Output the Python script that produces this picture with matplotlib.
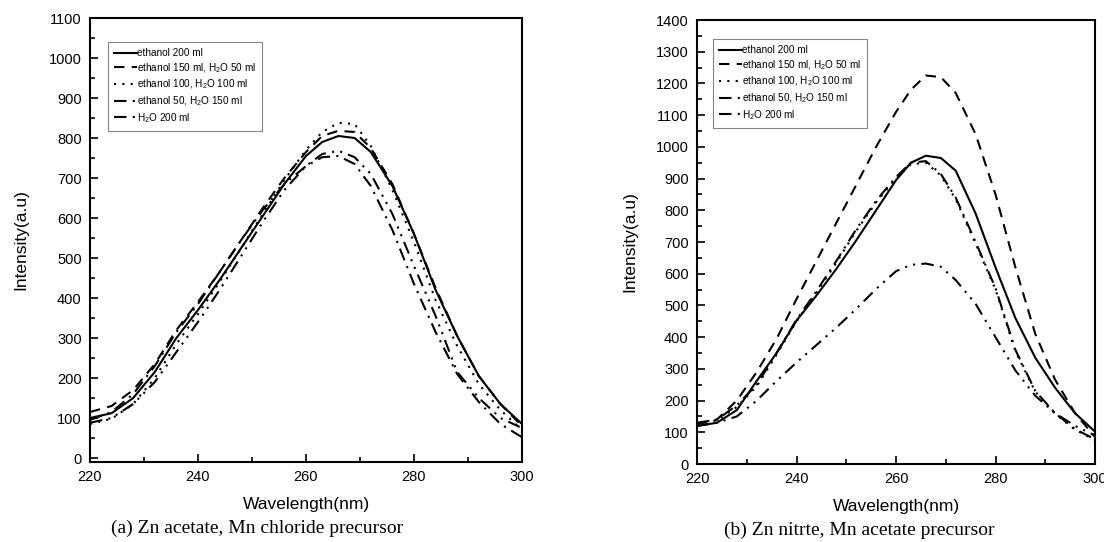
import numpy as np
import matplotlib
matplotlib.use('Agg')
import matplotlib.pyplot as plt
from matplotlib.ticker import MultipleLocator

plt.rcParams['font.family'] = ['Liberation Sans', 'DejaVu Sans']
plt.rcParams['mathtext.fontset'] = 'custom'
plt.rcParams['mathtext.rm'] = 'Liberation Sans'

labels = ['ethanol 200 ml',
          r'ethanol 150 ml, H$_\mathregular{2}$O 50 ml',
          r'ethanol 100, H$_\mathregular{2}$O 100 ml',
          r'ethanol 50, H$_\mathregular{2}$O 150 ml',
          r'H$_\mathregular{2}$O 200 ml']

# (a) Zn acetate, Mn chloride precursor
wl_a = [220, 224, 228, 232, 236, 240, 244, 248, 252, 256, 260, 263, 266, 269,
        272, 276, 280, 284, 288, 292, 296, 300]
a_eth200 = [100, 112, 150, 215, 300, 370, 445, 525, 605, 685, 755, 790, 805, 800,
            765, 680, 560, 420, 305, 205, 135, 85]
a_eth150 = [115, 130, 170, 235, 320, 390, 465, 545, 625, 700, 765, 805, 818, 815,
            775, 685, 560, 425, 305, 205, 135, 80]
a_eth100 = [85, 98, 135, 200, 285, 360, 440, 525, 610, 695, 770, 815, 838, 835,
            780, 670, 540, 395, 280, 185, 120, 70]
a_eth50 = [95, 115, 160, 230, 315, 385, 465, 545, 620, 685, 730, 752, 755, 735,
           680, 570, 435, 315, 210, 140, 85, 52]
a_h2o = [88, 100, 135, 190, 265, 340, 420, 505, 590, 670, 730, 760, 768, 752,
         710, 610, 480, 355, 215, 150, 100, 75]

# (b) Zn nitrate, Mn acetate precursor
wl_b = [220, 224, 228, 232, 236, 240, 244, 248, 252, 256, 260, 263, 266, 269,
        272, 276, 280, 284, 288, 292, 296, 300]
b_eth200 = [120, 130, 170, 262, 350, 452, 531, 615, 705, 800, 895, 950, 972, 965,
            925, 790, 620, 460, 335, 240, 160, 102]
b_eth150 = [125, 140, 200, 290, 395, 520, 640, 760, 880, 1000, 1110, 1180, 1225, 1220,
            1170, 1040, 850, 620, 410, 265, 160, 85]
b_eth100 = [125, 138, 180, 245, 345, 450, 540, 635, 735, 825, 900, 945, 950, 910,
            835, 695, 550, 355, 228, 158, 108, 76]
b_eth50 = [130, 140, 185, 250, 350, 455, 545, 640, 740, 830, 905, 950, 955, 915,
           840, 700, 555, 360, 230, 160, 110, 78]
b_h2o = [120, 130, 150, 200, 262, 320, 375, 430, 489, 552, 608, 628, 632, 622,
         580, 505, 400, 295, 215, 160, 120, 90]

styles = ['-', (0, (5, 3.5)), (0, (1, 3)), (0, (6, 3, 1, 3)), (0, (6, 3, 1, 3, 1, 3))]

fig = plt.figure(figsize=(11.04, 5.42), dpi=100)
ax1 = fig.add_axes([90 / 1104, 1 - 462 / 542, 432 / 1104, 444 / 542])
ax2 = fig.add_axes([697 / 1104, 1 - 464 / 542, 398 / 1104, 444 / 542])


def draw(ax, wl, series, ylim, ymax_tick, legend_box, ypad):
    for ys, ls, lab in zip(series, styles, labels):
        ax.plot(wl, ys, color='black', lw=1.5, linestyle=ls, label=lab)
    ax.set_xlim(220, 300)
    ax.set_ylim(*ylim)
    ax.set_xticks(np.arange(220, 301, 20))
    ax.set_yticks(np.arange(0, ymax_tick + 1, 100))
    ax.xaxis.set_minor_locator(MultipleLocator(10))
    ax.yaxis.set_minor_locator(MultipleLocator(50))
    ax.tick_params(which='both', direction='in', width=1.2, labelsize=10.5)
    ax.tick_params(which='major', length=6, pad=6)
    ax.tick_params(which='minor', length=3.5)
    for s in ax.spines.values():
        s.set_linewidth(1.5)
    ax.set_xlabel('Wavelength(nm)', fontsize=12.5, labelpad=9)
    ax.set_ylabel('Intensity(a.u)', fontsize=12.5, labelpad=ypad)
    leg = ax.legend(loc='upper left', bbox_to_anchor=legend_box, fontsize=7.2,
                    frameon=True, fancybox=False, handlelength=2.3,
                    handletextpad=0.0, labelspacing=0.3, borderpad=0.6,
                    borderaxespad=0)
    leg.get_frame().set_edgecolor('#666666')
    leg.get_frame().set_linewidth(0.8)


draw(ax1, wl_a, [a_eth200, a_eth150, a_eth100, a_eth50, a_h2o],
     (-10, 1100), 1100, (18 / 432, 1 - 24 / 444), 15)
draw(ax2, wl_b, [b_eth200, b_eth150, b_eth100, b_eth50, b_h2o],
     (0, 1400), 1400, (16 / 398, 1 - 19 / 444), 13)

fig.text(257 / 1104, 1 - 528 / 542, '(a) Zn acetate, Mn chloride precursor',
         family=['Liberation Serif', 'DejaVu Serif'], fontsize=14,
         ha='center', va='center')
fig.text(859 / 1104, 1 - 530 / 542, '(b) Zn nitrte, Mn acetate precursor',
         family=['Liberation Serif', 'DejaVu Serif'], fontsize=14,
         ha='center', va='center')

fig.savefig('out.png', dpi=100)
